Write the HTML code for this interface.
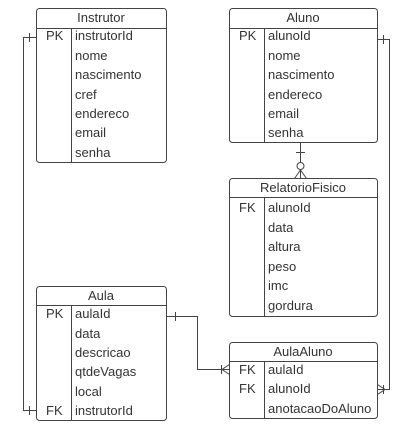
<!DOCTYPE html><html><head><style>
body{margin:0;background:#fff}
svg text{font-family:"Liberation Sans",sans-serif;font-size:13px;fill:#333}
</style></head><body>
<svg width="405" height="429" viewBox="0 0 405 429">
<g fill="none" stroke="#444" stroke-width="1">
<rect x="36.5" y="8.5" width="130" height="154" rx="3" fill="#fff"/>
<line x1="36.5" y1="28.5" x2="166.5" y2="28.5"/><line x1="71.5" y1="28.5" x2="71.5" y2="162.5"/>
<rect x="229.5" y="8.5" width="148" height="134" rx="3" fill="#fff"/>
<line x1="229.5" y1="28.5" x2="377.5" y2="28.5"/><line x1="264.5" y1="28.5" x2="264.5" y2="142.5"/>
<rect x="229.5" y="178.5" width="148" height="138" rx="3" fill="#fff"/>
<line x1="229.5" y1="197.5" x2="377.5" y2="197.5"/><line x1="264.5" y1="197.5" x2="264.5" y2="316.5"/>
<rect x="36.5" y="286.5" width="130" height="134" rx="3" fill="#fff"/>
<line x1="36.5" y1="305.5" x2="166.5" y2="305.5"/><line x1="71.5" y1="305.5" x2="71.5" y2="420.5"/>
<rect x="229.5" y="342.5" width="148" height="76" rx="3" fill="#fff"/>
<line x1="229.5" y1="361.5" x2="377.5" y2="361.5"/><line x1="264.5" y1="361.5" x2="264.5" y2="418.5"/>
<path d="M36.5 37.5 H23.5 V410.5 H36.5"/>
<line x1="29.5" y1="33" x2="29.5" y2="42"/><line x1="29.5" y1="406" x2="29.5" y2="415"/>
<line x1="300.5" y1="142.5" x2="300.5" y2="178.5"/>
<line x1="296" y1="152.5" x2="305" y2="152.5"/>
<circle cx="300.5" cy="166" r="3.5" fill="#fff"/>
<path d="M294.5 178.5 L300.5 170 L306.5 178.5"/>
<path d="M377.5 39.5 H389.5 V389.5 H377.5"/>
<line x1="383.5" y1="35" x2="383.5" y2="44"/>
<line x1="383.5" y1="385" x2="383.5" y2="394"/>
<path d="M377.5 384.5 L385 389.5 L377.5 394.5"/>
<path d="M166.5 316.5 H197.5 V369.5 H229.5"/>
<line x1="175.5" y1="312" x2="175.5" y2="321"/>
<line x1="221.5" y1="365" x2="221.5" y2="374"/>
<path d="M229.5 364.5 L222 369.5 L229.5 374.5"/>
</g>
<g>
<text x="101" y="22" text-anchor="middle">Instrutor</text>
<text x="46" y="40">PK</text>
<text x="75" y="40">instrutorId</text><text x="75" y="60">nome</text><text x="75" y="79">nascimento</text><text x="75" y="99">cref</text><text x="75" y="118">endereco</text><text x="75" y="137">email</text><text x="75" y="157">senha</text>
<text x="303" y="22" text-anchor="middle">Aluno</text>
<text x="239" y="40">PK</text>
<text x="268" y="40">alunoId</text><text x="268" y="60">nome</text><text x="268" y="79">nascimento</text><text x="268" y="99">endereco</text><text x="268" y="118">email</text><text x="268" y="137">senha</text>
<text x="303" y="192" text-anchor="middle">RelatorioFisico</text>
<text x="239" y="212">FK</text>
<text x="268" y="212">alunoId</text><text x="268" y="232">data</text><text x="268" y="251">altura</text><text x="268" y="271">peso</text><text x="268" y="290">imc</text><text x="268" y="310">gordura</text>
<text x="101" y="300" text-anchor="middle">Aula</text>
<text x="46" y="318">PK</text><text x="46" y="415">FK</text>
<text x="75" y="318">aulaId</text><text x="75" y="338">data</text><text x="75" y="357">descricao</text><text x="75" y="376">qtdeVagas</text><text x="75" y="396">local</text><text x="75" y="415">instrutorId</text>
<text x="303" y="356" text-anchor="middle">AulaAluno</text>
<text x="239" y="374">FK</text><text x="239" y="393">FK</text>
<text x="268" y="374">aulaId</text><text x="268" y="393">alunoId</text><text x="268" y="413">anotacaoDoAluno</text>
</g>
</svg>
</body></html>
